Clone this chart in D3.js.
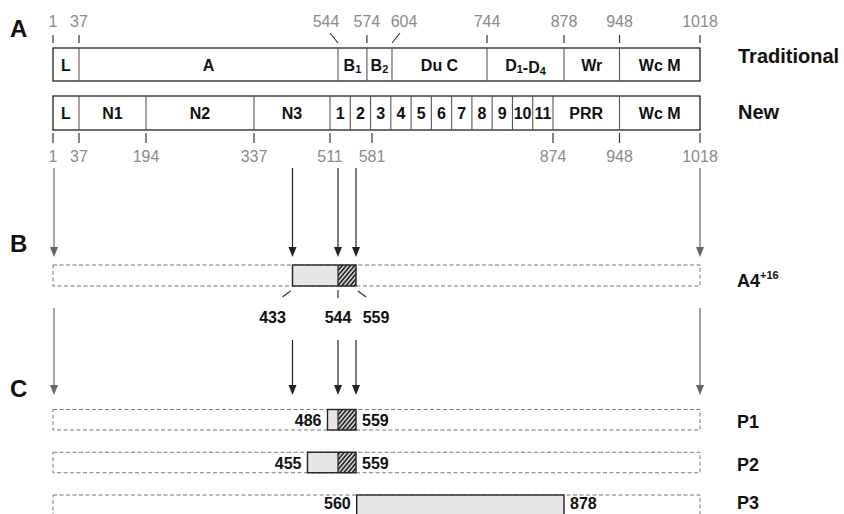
<!DOCTYPE html>
<html><head><meta charset="utf-8">
<script src="https://cdn.jsdelivr.net/npm/d3@7"></script>
<style>
body{margin:0;background:#fff}
svg{display:block}
text{font-family:"Liberation Sans",Arial,Helvetica,sans-serif}
</style>
</head><body>
<svg id="chart" width="844" height="514"></svg>
<script>
// ---------- data ----------
const tradLabels = ["L","A","B_1","B_2","Du C","D_1-D_4","Wr","Wc M"];
const tradBounds = [1,37,544,574,604,744,878,948,1018];
const newLabels = ["L","N1","N2","N3","","PRR","Wc M"];
const newBounds = [1,37,194,337,511,874,948,1018];
const repeatLabels = ["1","2","3","4","5","6","7","8","9","10","11"];
const topTicks = [1,37,544,574,604,744,878,948,1018];
const topTickLean = [0,0,-1,0,1,0,0,0,0];
const bottomTicks = [1,37,194,337,511,581,874,948,1018];
const arrowSites = [1,433,544,559,1018];
const a4Region = [433,544,559];      // start, hatch start, end
const a4Ticks = [433,544,559];
const a4TickLean = [-1,0,1];
const constructNames = ["P1","P2","P3"];
const constructStarts = [486,455,560];
const constructHatch = [544,544,null];
const constructEnds = [559,559,878];

// ---------- schematic position scale (not to scale in the original) ----------
const x = d3.scaleLinear()
  .domain([1,37,194,337,433,455,486,511,544,559,581,604,744,874,878,948,1018])
  .range([53,79,146,254,292.5,307.5,327.5,330,338,356,372,392,487,553,564,619.5,700]);

const svg = d3.select("#chart");
svg.append("rect").attr("width",844).attr("height",514).attr("fill","#fff");

const defs = svg.append("defs");
const pat = defs.append("pattern").attr("id","hatch")
  .attr("patternUnits","userSpaceOnUse").attr("width",3.2).attr("height",10)
  .attr("patternTransform","rotate(40)");
pat.append("rect").attr("width",3.2).attr("height",10).attr("fill","#d0d0d0");
pat.append("line").attr("x1",0.8).attr("x2",0.8).attr("y1",0).attr("y2",10)
  .attr("stroke","#111").attr("stroke-width",1.4);

function richText(sel, label, subSize){
  const parts = label.split(/(_\d)/).filter(p=>p.length);
  parts.forEach(p=>{
    if(p[0]==="_"){
      sel.append("tspan").attr("font-size",subSize).attr("dy",2).text(p.slice(1));
      sel.append("tspan").attr("dy",-2).text("");
    } else sel.append("tspan").text(p);
  });
}

const gray = "#8a8a8a";

// panel letters
[["A",37],["B",252],["C",397]].forEach(([t,y])=>{
  svg.append("text").attr("x",10).attr("y",y).attr("font-size",24)
    .attr("font-weight","bold").attr("fill","#111").text(t);
});

// ---------- panel A ----------
const gTop = svg.append("g");
topTicks.forEach((v,i)=>{
  const lean = topTickLean[i];
  const xb = x(v), xt = xb + lean*8;
  gTop.append("line").attr("x1",xt).attr("x2",xb).attr("y1",lean?33:35).attr("y2",43)
    .attr("stroke","#333").attr("stroke-width",1.2);
  gTop.append("text").attr("x",xb+lean*12).attr("y",27).attr("text-anchor","middle")
    .attr("font-size",16).attr("fill",gray).text(v);
});

function drawBar(y,h,bounds,labels){
  const g = svg.append("g");
  g.append("rect").attr("x",x(bounds[0])).attr("y",y)
    .attr("width",x(bounds[bounds.length-1])-x(bounds[0])).attr("height",h)
    .attr("fill","#fff").attr("stroke","#222").attr("stroke-width",1.3);
  bounds.slice(1,-1).forEach(b=>{
    g.append("line").attr("x1",x(b)).attr("x2",x(b)).attr("y1",y).attr("y2",y+h)
      .attr("stroke","#555").attr("stroke-width",1.1);
  });
  labels.forEach((l,i)=>{
    if(!l) return;
    const t = g.append("text").attr("x",(x(bounds[i])+x(bounds[i+1]))/2)
      .attr("y",y+h/2+6).attr("text-anchor","middle").attr("font-size",16)
      .attr("font-weight","bold").attr("fill","#111");
    richText(t,l,11);
  });
  return g;
}
drawBar(48,33,tradBounds,tradLabels);
const gNew = drawBar(96,34,newBounds,newLabels);

const rep = d3.scaleBand().domain(repeatLabels).range([x(511),x(874)]);
repeatLabels.forEach((r,i)=>{
  if(i>0) gNew.append("line").attr("x1",rep(r)).attr("x2",rep(r)).attr("y1",96).attr("y2",130)
    .attr("stroke","#555").attr("stroke-width",1.1);
  gNew.append("text").attr("x",rep(r)+rep.bandwidth()/2).attr("y",119)
    .attr("text-anchor","middle").attr("font-size",16).attr("font-weight","bold")
    .attr("fill","#111").text(r);
});

bottomTicks.forEach(v=>{
  svg.append("line").attr("x1",x(v)).attr("x2",x(v)).attr("y1",133).attr("y2",143)
    .attr("stroke","#333").attr("stroke-width",1.2);
  svg.append("text").attr("x",x(v)).attr("y",162).attr("text-anchor","middle")
    .attr("font-size",16).attr("fill",gray).text(v);
});

[["Traditional",63],["New",119]].forEach(([t,y])=>{
  svg.append("text").attr("x",738).attr("y",y).attr("font-size",20)
    .attr("font-weight","bold").attr("fill","#111").text(t);
});

// ---------- arrows ----------
function arrow(xv,y1,y2,color){
  svg.append("line").attr("x1",xv).attr("x2",xv).attr("y1",y1).attr("y2",y2-8)
    .attr("stroke",color).attr("stroke-width",1.2);
  svg.append("path").attr("d",`M${xv-4},${y2-10}L${xv+4},${y2-10}L${xv},${y2}Z`)
    .attr("fill",color);
}
arrowSites.forEach((v,i)=>{
  const outer = (i===0||i===arrowSites.length-1);
  const xv = x(v) + (i===0?1:0);
  arrow(xv,168,257,outer?"#666":"#222");
  arrow(xv,outer?308:340,395,outer?"#666":"#222");
});

// ---------- construct bars ----------
function construct(y,h,start,hatch,end){
  const g = svg.append("g");
  g.append("rect").attr("x",x(1)).attr("y",y).attr("width",x(1018)-x(1)).attr("height",h)
    .attr("fill","none").attr("stroke","#777").attr("stroke-width",1)
    .attr("stroke-dasharray","4,2.5");
  const hs = hatch==null?end:hatch;
  g.append("rect").attr("x",x(start)).attr("y",y).attr("width",x(hs)-x(start)).attr("height",h)
    .attr("fill","#e6e6e6");
  if(hatch!=null){
    g.append("rect").attr("x",x(hatch)).attr("y",y).attr("width",x(end)-x(hatch)).attr("height",h)
      .attr("fill","url(#hatch)");
  }
  g.append("rect").attr("x",x(start)).attr("y",y).attr("width",x(end)-x(start)).attr("height",h)
    .attr("fill","none").attr("stroke","#222").attr("stroke-width",1.4);
  if(hatch!=null){
    g.append("line").attr("x1",x(hatch)).attr("x2",x(hatch)).attr("y1",y).attr("y2",y+h)
      .attr("stroke","#222").attr("stroke-width",1.2);
  }
  return g;
}

// B : A4+16
construct(265,21,a4Region[0],a4Region[1],a4Region[2]);
a4Ticks.forEach((v,i)=>{
  const lean = a4TickLean[i];
  svg.append("line").attr("x1",x(v)+lean*2).attr("x2",x(v)+lean*10)
    .attr("y1",lean?291:290).attr("y2",lean?297:298)
    .attr("stroke","#333").attr("stroke-width",1.2);
  svg.append("text").attr("x",x(v)+lean*20).attr("y",323).attr("text-anchor","middle")
    .attr("font-size",16).attr("font-weight","bold").attr("fill","#111").text(v);
});
const a4t = svg.append("text").attr("x",737).attr("y",287).attr("font-size",18)
  .attr("font-weight","bold").attr("fill","#111");
a4t.append("tspan").text("A4");
a4t.append("tspan").attr("font-size",11).attr("dy",-8).text("+16");

// C : P1-P3
const yRow = d3.scalePoint().domain(constructNames).range([409.5,495]);
constructNames.forEach((n,i)=>{
  const y = yRow(n), h = 20.5;
  construct(y,h,constructStarts[i],constructHatch[i],constructEnds[i]);
  const ty = Math.min(y+h/2+6, 509);
  svg.append("text").attr("x",x(constructStarts[i])-6).attr("y",ty)
    .attr("text-anchor","end").attr("font-size",16).attr("font-weight","bold")
    .attr("fill","#111").text(constructStarts[i]);
  svg.append("text").attr("x",x(constructEnds[i])+6).attr("y",ty)
    .attr("font-size",16).attr("font-weight","bold").attr("fill","#111").text(constructEnds[i]);
  svg.append("text").attr("x",737).attr("y",Math.min(y+h/2+8,509)).attr("font-size",18)
    .attr("font-weight","bold").attr("fill","#111").text(n);
});
</script>
</body></html>
